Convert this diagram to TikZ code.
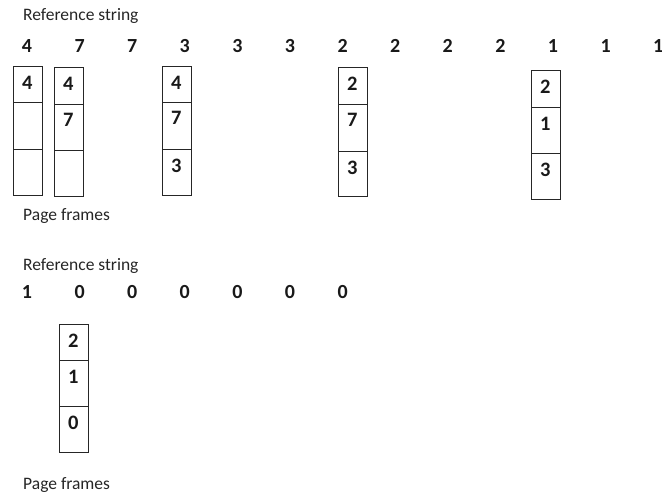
\documentclass[tikz,border=0pt]{standalone}
\usepackage{fontspec}
\setmainfont{Carlito}
\begin{document}
\begin{tikzpicture}[x=1pt,y=-1pt,
  lbl/.style={font=\fontsize{17.5}{20}\selectfont, inner sep=0pt, anchor=base west, text=black!85},
  num/.style={font=\fontsize{20}{22}\selectfont\bfseries, inner sep=0pt, anchor=center, text=black!90},
  cell/.style={draw=black!85, line width=0.9pt, minimum width=29pt, inner sep=0pt, anchor=north west},
  cnum/.style={font=\fontsize{20.5}{22}\selectfont\bfseries, inner sep=0pt, anchor=north west, text=black!90}]
\useasboundingbox (0,0) rectangle (662,495);
\clip (0,0) rectangle (662,495);
% labels
\node[lbl] (rs1) at (23,21) {Reference string};
\node[lbl] (pf1) at (23,220) {Page frames};
\node[lbl] (rs2) at (23,270) {Reference string};
\node[lbl] (pf2) at (23,489) {Page frames};
% reference string row 1
\foreach \v [count=\i] in {4,7,7,3,3,3,2,2,2,2,1,1,1}{
  \node[num] (r1n\i) at ({27+52.6*(\i-1)},46) {\v};
}
% reference string row 2
\foreach \v [count=\i] in {1,0,0,0,0,0,0}{
  \node[num] (r2n\i) at ({27+52.6*(\i-1)},292.5) {\v};
}
% frame boxes: name, left, top, divider1, divider2, bottom, a, b, c
\foreach \nm/\x/\t/\da/\db/\bt/\a/\b/\c in {
  fa/13/66/102/149/195/4//,
  fb/54/67/104/150/196/4/7/,
  fc/162/66/102/149/195/4/7/3,
  fd/338/67/104/151/196/2/7/3,
  fe/531/70/107/153/199/2/1/3,
  ff/59/324/360/406/452/2/1/0}{
  \node[cell, minimum height={\da-\t}] (\nm1) at (\x,\t) {};
  \node[cell, minimum height={\db-\da}] (\nm2) at (\x,\da) {};
  \node[cell, minimum height={\bt-\db}] (\nm3) at (\x,\db) {};
  \node[cnum] (\nm t1) at ([shift={(9pt,-9.5pt)}]\nm1.north west) {\a};
  \node[cnum] (\nm t2) at ([shift={(9pt,-9.5pt)}]\nm2.north west) {\b};
  \node[cnum] (\nm t3) at ([shift={(9pt,-9.5pt)}]\nm3.north west) {\c};
}
\end{tikzpicture}
\end{document}
